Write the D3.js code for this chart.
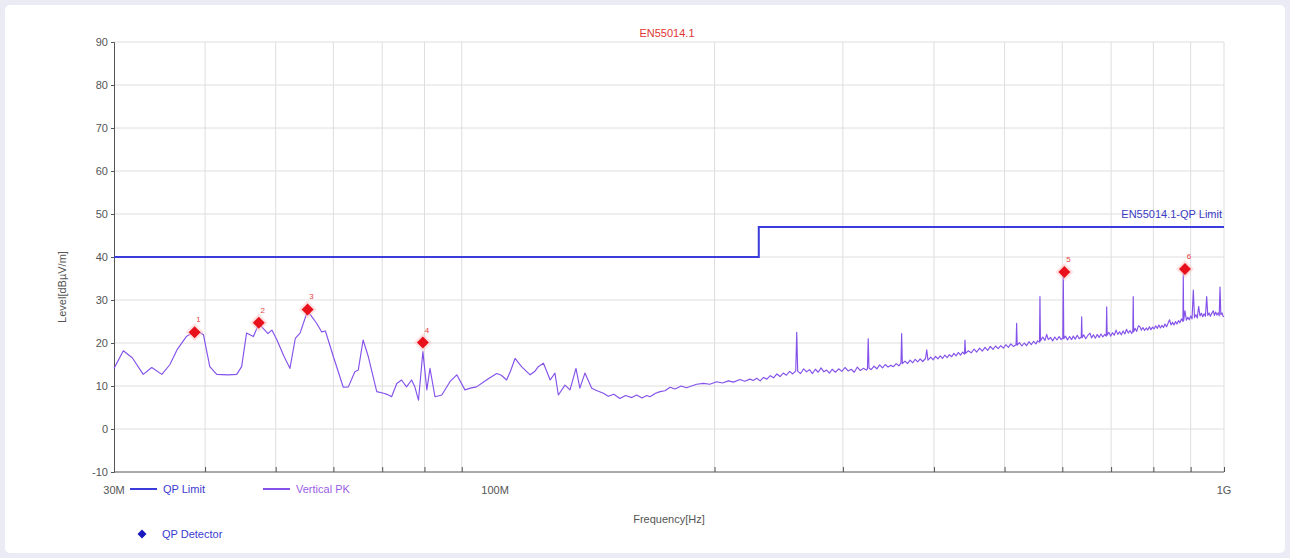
<!DOCTYPE html>
<html>
<head>
<meta charset="utf-8">
<script src="https://cdn.jsdelivr.net/npm/d3@7"></script>
<style>
  html, body { margin: 0; padding: 0; background: #ebebf5; }
  svg { display: block; font-family: "Liberation Sans", Arial, sans-serif; }
</style>
</head>
<body>
<svg id="chart" width="1290" height="558"></svg>
<script>
// ---------------- DATA ----------------
const chartTitle = "EN55014.1";
const limitLabel = "EN55014.1-QP Limit";
const yTicks = [-10, 0, 10, 20, 30, 40, 50, 60, 70, 80, 90];
const xGridMHz = [40, 50, 60, 70, 80, 90, 200, 300, 400, 500, 600, 700, 800, 900];
const xLabelMHz = [30, 100, 1000];
const xLabelText = ["30M", "100M", "1G"];

// QP limit (MHz, dBuV/m)
const limitFreq = [30, 230, 230, 1000];
const limitLevel = [40, 40, 47, 47];

// Vertical PK trace: [MHz, dBuV/m]
const peakTrace = [
  [30, 14.1], [30.9, 18.2], [31.8, 16.5], [32.9, 12.7], [33.8, 14.3], [34.9, 12.7], [35.8, 15.0], [36.6, 18.4],
  [37.7, 21.5], [38.4, 22.3], [39.2, 22.6], [39.8, 21.9], [40.6, 14.5], [41.5, 12.7], [43.0, 12.6], [44.2, 12.7],
  [44.9, 14.5], [45.6, 22.3], [46.6, 21.5], [47.4, 24.5], [48.3, 23.0], [48.8, 22.2], [49.4, 23.0], [50.2, 20.7],
  [51.3, 17.0], [52.3, 14.1], [53.2, 21.1], [54.0, 22.3], [55.3, 27.5], [56.1, 26.0], [56.9, 24.6], [57.8, 22.6],
  [58.5, 22.8], [60.0, 16.8], [61.9, 9.7], [62.9, 9.8], [64.2, 13.3], [64.9, 13.7], [65.9, 20.7], [67.0, 16.8],
  [68.8, 8.7], [70.3, 8.3], [71.2, 8.0], [72.1, 7.5], [73.3, 10.6], [74.4, 11.4], [75.6, 9.8], [76.8, 11.4],
  [77.6, 9.8], [78.5, 6.7], [79.6, 18.0], [80.6, 9.1], [81.4, 14.1], [82.7, 7.5], [84.5, 7.9], [86.7, 11.0],
  [88.6, 12.6], [90.9, 9.1], [92.5, 9.5], [94.3, 9.8], [97.3, 11.4], [98.5, 12.0], [100.5, 12.9], [102, 12.5],
  [103.7, 11.4], [105, 13.5], [106.5, 16.4], [108.7, 14.5], [111.7, 12.6], [113.5, 13.5], [114.6, 14.5], [116.5, 15.3],
  [119.0, 11.4], [120.8, 13.0], [122.1, 7.9], [124.7, 10.2], [126.7, 9.1], [129.1, 14.1], [130.7, 9.5], [132.8, 13.0],
  [135.7, 9.5], [138, 8.9], [140.8, 8.3], [143, 7.6], [145.5, 8.1], [148.3, 7.1], [151, 7.8], [154, 7.3],
  [156.4, 7.9], [159, 7.2], [161.5, 7.8], [163.1, 7.5], [166, 8.3], [168.4, 8.7], [171, 8.9], [173.8, 9.7],
  [176.5, 9.3], [180, 10.0], [183, 9.6], [185.1, 9.9], [189, 10.4], [193.1, 10.6], [197, 10.4], [201.4, 11.0],
  [205, 10.7], [209, 11.2], [212.3, 10.9], [216.8, 11.5], [220, 11.1], [223.7, 11.6], [226, 11.3], [228.5, 11.8],
  [231, 11.2], [233.5, 12.0], [236, 11.6], [238.5, 12.4], [241, 11.9], [243.5, 12.8], [246, 12.2], [248.5, 13.0],
  [251, 12.5], [253.5, 13.4], [256, 12.8], [258.5, 13.5], [259.3, 22.5], [260.1, 13.4], [262.5, 12.9], [265, 14.0],
  [267.5, 13.3], [270, 13.8], [272.5, 12.9], [275, 13.9], [277.5, 13.2], [280, 14.2], [282.5, 13.3], [285, 13.7],
  [287.5, 13.0], [290, 13.9], [293, 13.2], [296, 14.0], [299, 13.4], [302, 14.3], [305, 13.5], [308, 13.9],
  [311, 13.2], [314, 14.4], [317, 13.6], [320, 14.1], [323, 13.7], [324.2, 14.0], [325, 21.0], [325.8, 14.2],
  [328, 13.8], [331, 14.6], [334, 14.0], [337, 14.9], [340, 14.2], [343, 15.0], [346, 14.4], [349, 14.8],
  [352, 14.5], [355, 15.2], [358, 14.7], [360.4, 15.3], [361.2, 22.2], [362, 15.2], [365, 15.8], [368, 15.2],
  [371, 16.0], [374, 15.4], [377, 16.2], [380, 15.6], [383, 16.3], [386, 15.7], [389.5, 16.4], [391, 18.4],
  [392.5, 16.0], [396, 16.7], [399, 16.1], [402, 16.9], [405, 16.3], [408, 17.0], [411, 16.4], [414, 17.2],
  [417, 16.6], [420, 17.3], [423, 16.8], [426, 17.6], [429, 17.0], [432, 17.8], [435, 17.2], [438, 17.9],
  [440.5, 17.4], [441.2, 20.7], [442, 17.6], [446, 18.2], [450, 17.7], [454, 18.6], [458, 17.9], [462, 18.8],
  [466, 18.1], [470, 19.0], [474, 18.3], [478, 19.2], [482, 18.5], [486, 19.3], [490, 18.7], [494, 19.4],
  [498, 18.8], [502, 19.6], [506, 19.0], [510, 19.8], [514, 19.2], [518.5, 19.6], [519.4, 24.6], [520.3, 19.5],
  [524, 20.1], [528, 19.3], [532, 20.0], [536, 19.4], [540, 20.3], [544, 19.6], [548, 20.4], [552, 19.8],
  [555, 20.5], [558.3, 20.2], [559.1, 30.8], [560, 20.5], [564, 21.4], [568, 20.6], [571.1, 22.0], [574, 20.8],
  [578, 21.3], [582, 20.5], [586, 21.4], [590, 20.7], [594, 21.5], [598, 20.8], [601, 21.2], [601.9, 36.0],
  [602.8, 21.0], [606, 21.6], [610, 20.7], [614, 21.5], [618, 20.8], [621.2, 21.6], [625, 20.9], [629, 21.8],
  [633, 21.0], [637, 21.4], [637.9, 26.1], [638.8, 21.2], [642, 21.9], [646, 21.0], [650, 21.7], [654.8, 22.3],
  [658, 21.2], [662, 21.9], [666, 21.1], [670, 22.0], [674, 21.3], [678, 22.1], [682, 21.4], [686, 22.0],
  [689.3, 21.6], [690.3, 28.4], [691.3, 21.8], [695, 22.5], [699, 21.6], [703, 22.4], [707, 21.8], [711, 23.0],
  [715, 22.0], [719, 22.6], [723, 21.9], [727, 22.8], [731, 22.1], [735, 23.2], [739, 22.3], [743, 22.9],
  [747, 22.2], [749.7, 22.8], [750.7, 30.8], [751.7, 22.6], [755, 23.4], [759, 22.7], [763, 24.0], [766.7, 23.8],
  [770, 23.0], [774, 23.6], [778, 22.9], [782, 23.5], [786, 23.0], [790, 23.8], [794, 23.1], [798, 23.7],
  [802, 23.3], [806, 24.0], [810, 23.4], [814, 24.2], [818, 23.5], [822, 24.1], [826, 23.6], [830, 24.4],
  [834, 23.8], [838, 24.6], [842, 25.4], [846, 24.2], [850, 24.8], [854, 24.2], [858, 25.0], [862, 24.4],
  [866, 25.2], [870, 24.7], [874, 25.6], [878.3, 25.0], [879.3, 36.0], [880.3, 25.2], [884, 27.5], [888, 25.3],
  [892, 26.0], [896, 25.4], [900, 26.3], [904, 25.6], [907.6, 32.3], [911, 25.9], [915, 26.6], [919, 25.8],
  [923, 28.5], [927, 26.3], [931, 26.9], [935, 26.1], [939, 26.8], [943, 26.2], [946.8, 30.8], [950, 26.4],
  [954, 27.0], [958, 26.2], [962, 26.9], [966.8, 27.5], [970, 26.4], [974, 27.2], [978, 26.5], [982, 27.0],
  [985, 26.3], [987.5, 33.0], [990, 26.6], [994, 27.0], [997, 26.2], [1000, 26.1]
];

// QP detector markers
const markerId = ["1", "2", "3", "4", "5", "6"];
const markerFreq = [38.7, 47.4, 55.3, 79.6, 604, 884];
const markerLevel = [22.5, 24.7, 27.8, 20.1, 36.5, 37.2];

// legend entries
const legendLines = ["QP Limit", "Vertical PK"];
const legendMarker = "QP Detector";

// ---------------- LAYOUT ----------------
const svg = d3.select("#chart");
const W = 1290, H = 558;
const m = { left: 114, top: 42, right: 66, bottom: 86 };
const pw = W - m.left - m.right;   // 1110
const ph = H - m.top - m.bottom;   // 430

const colLimit = "#3b3bdc";
const colTrace = "#8452ea";
const colAxis = "#555";
const colGrid = "#dedede";

svg.append("rect").attr("x", 5).attr("y", 5).attr("width", W - 10).attr("height", H - 10)
  .attr("rx", 5).attr("fill", "#fff");

const x = d3.scaleLog().domain([30, 1000]).range([m.left, m.left + pw]);
const y = d3.scaleLinear().domain([-10, 90]).range([m.top + ph, m.top]);

// grid
const g = svg.append("g");
g.selectAll(".hg").data(yTicks.filter(v => v > -10)).join("line")
  .attr("x1", m.left).attr("x2", m.left + pw)
  .attr("y1", d => y(d)).attr("y2", d => y(d))
  .attr("stroke", colGrid).attr("stroke-width", 1);
g.selectAll(".vg").data(xGridMHz.concat([1000])).join("line")
  .attr("x1", d => x(d)).attr("x2", d => x(d))
  .attr("y1", m.top).attr("y2", m.top + ph)
  .attr("stroke", colGrid).attr("stroke-width", 1);

// axes
const yAxis = d3.axisLeft(y).tickValues(yTicks).tickSize(3).tickPadding(3).tickFormat(d => String(d));
const yg = svg.append("g").attr("transform", `translate(${m.left},0)`).call(yAxis);
yg.select(".domain").attr("stroke", colAxis);
yg.selectAll(".tick line").attr("stroke", colAxis);
yg.selectAll("text").attr("fill", colAxis).style("font-size", "11px");

const xAxis = d3.axisTop(x).tickValues(xGridMHz.concat([1000])).tickSize(5).tickFormat("");
const xg = svg.append("g").attr("transform", `translate(0,${m.top + ph})`).call(xAxis);
xg.select(".domain").attr("stroke", colAxis).attr("d", `M${m.left},0H${m.left + pw}`);
xg.selectAll(".tick line").attr("stroke", colAxis);

svg.selectAll(".xl").data(xLabelMHz).join("text")
  .attr("x", d => x(d)).attr("y", m.top + ph + 22)
  .attr("text-anchor", "middle").attr("fill", colAxis).style("font-size", "11px")
  .text((d, i) => xLabelText[i]);

// axis titles
svg.append("text").attr("x", m.left + pw / 2).attr("y", m.top + ph + 51)
  .attr("text-anchor", "middle").attr("fill", colAxis).style("font-size", "11px")
  .text("Frequency[Hz]");
svg.append("text").attr("transform", `translate(66,${m.top + ph / 2 + 30}) rotate(-90)`)
  .attr("text-anchor", "middle").attr("fill", colAxis).style("font-size", "11px")
  .text("Level[dBµV/m]");

// title
svg.append("text").attr("x", 667).attr("y", 37).attr("text-anchor", "middle")
  .attr("fill", "#e03535").style("font-size", "11px").text(chartTitle);

// trace
const line = d3.line().x(d => x(d[0])).y(d => y(d[1]));
svg.append("path").datum(peakTrace).attr("d", line)
  .attr("fill", "none").attr("stroke", colTrace).attr("stroke-width", 1.15)
  .attr("stroke-linejoin", "round");

// limit
const limitData = limitFreq.map((f, i) => [f, limitLevel[i]]);
svg.append("path").datum(limitData).attr("d", line)
  .attr("fill", "none").attr("stroke", colLimit).attr("stroke-width", 2);
svg.append("text").attr("x", x(1000) - 2).attr("y", y(47) - 9)
  .attr("text-anchor", "end").attr("fill", "#3a3ac4").style("font-size", "11px")
  .text(limitLabel);

// markers
const diamond = (s) => `M0,${-s}L${s},0L0,${s}L${-s},0Z`;
const mk = svg.selectAll(".mk").data(markerFreq).join("g")
  .attr("transform", (d, i) => `translate(${x(d)},${y(markerLevel[i])})`);
mk.append("path").attr("d", diamond(9)).attr("fill", "#ffbcbc").attr("opacity", 0.45);
mk.append("path").attr("d", diamond(6)).attr("fill", "#e8101a");
mk.append("text").attr("x", 4).attr("y", -10).attr("text-anchor", "middle")
  .attr("fill", "#e84040").style("font-size", "8px")
  .text((d, i) => markerId[i]);

// legend
const lg = svg.append("g");
const legCols = [colLimit, colTrace];
const legText = ["#3a3ad0", "#9a5ee6"];
const legX = [130, 263];
legendLines.forEach((t, i) => {
  lg.append("line").attr("x1", legX[i]).attr("x2", legX[i] + 27)
    .attr("y1", 489).attr("y2", 489).attr("stroke", legCols[i]).attr("stroke-width", 2);
  lg.append("text").attr("x", legX[i] + 33).attr("y", 493)
    .attr("fill", legText[i]).style("font-size", "11px").text(t);
});
lg.append("path").attr("transform", "translate(142,534)").attr("d", diamond(4.5)).attr("fill", "#1818c0");
lg.append("text").attr("x", 162).attr("y", 538).attr("fill", "#3a3ad0")
  .style("font-size", "11px").text(legendMarker);
</script>
</body>
</html>
